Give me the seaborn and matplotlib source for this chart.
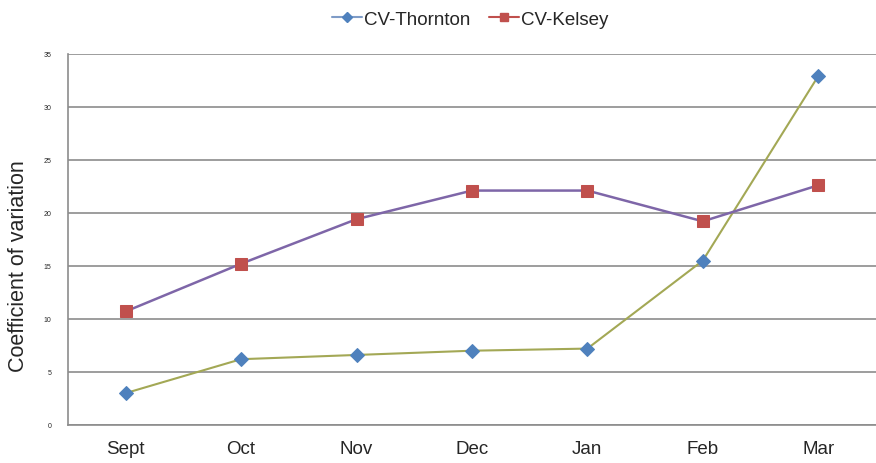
import matplotlib
matplotlib.use("Agg")
import matplotlib.pyplot as plt
import seaborn as sns
import pandas as pd
from matplotlib.lines import Line2D

months = ["Sept", "Oct", "Nov", "Dec", "Jan", "Feb", "Mar"]
cv_thornton = [3.0, 6.2, 6.6, 7.0, 7.2, 15.5, 32.9]
cv_kelsey = [10.7, 15.2, 19.4, 22.1, 22.1, 19.2, 22.6]
y_ticks = [0, 5, 10, 15, 20, 25, 30, 35]

sns.set_style("white")
plt.rcParams["font.family"] = ["Liberation Sans", "DejaVu Sans"]

df = pd.DataFrame({"pos": range(len(months)), "month": months,
                   "Thornton": cv_thornton, "Kelsey": cv_kelsey})

fig = plt.figure(figsize=(8.76, 4.64), dpi=100)
ax = fig.add_axes([0.0775, 0.082, 0.9225, 0.8])

# -------- Lines --------
sns.lineplot(data=df, x="pos", y="Thornton", ax=ax, color="#A3A855", linewidth=1.5,
             marker="D", markersize=7, markerfacecolor="#4F81BD",
             markeredgecolor="#4F81BD", zorder=3)
sns.lineplot(data=df, x="pos", y="Kelsey", ax=ax, color="#7E66A8", linewidth=1.8,
             marker="s", markersize=8, markerfacecolor="#C0504D",
             markeredgecolor="#C0504D", zorder=3)

# -------- Axes --------
ax.set_ylim(0, 35)
ax.set_yticks(y_ticks)
ax.set_yticklabels([str(t) for t in y_ticks], fontsize=5)
ax.set_xlim(-0.5, 6.44)
ax.set_xticks(range(len(months)))
ax.set_xticklabels(months, fontsize=13.5)
ax.set_xticks([i - 0.5 for i in range(len(months) + 1)], minor=True)
ax.tick_params(axis="x", which="major", length=0, pad=11)
ax.tick_params(axis="x", which="minor", length=5, width=1, color="#888888", direction="out")
ax.tick_params(axis="y", length=4, width=1, color="#888888", direction="out", pad=8)
ax.set_xlabel("")
ax.set_ylabel("Coefficient of variation", fontsize=15.5)
ax.yaxis.set_label_coords(-0.048, 0.43)
ax.yaxis.grid(True, color="#8C8C8C", linewidth=1.2)
ax.set_axisbelow(True)
for s in ["top", "right"]:
    ax.spines[s].set_visible(False)
for s in ["left", "bottom"]:
    ax.spines[s].set_color("#8C8C8C")
    ax.spines[s].set_linewidth(1.2)

# -------- Legend --------
handles = [
    Line2D([], [], color="#7F9CC7", linewidth=1.5, marker="D", markersize=5,
           markerfacecolor="#4F81BD", markeredgecolor="#4F81BD"),
    Line2D([], [], color="#C0504D", linewidth=1.5, marker="s", markersize=6,
           markerfacecolor="#C0504D", markeredgecolor="#C0504D"),
]
fig.legend(handles, ["CV-Thornton", "CV-Kelsey"], loc="center", bbox_to_anchor=(0.537, 0.957),
           ncol=2, frameon=False, fontsize=13.5, handlelength=1.6, handletextpad=0.1,
           columnspacing=1.0)

fig.savefig("out.png", dpi=100)
